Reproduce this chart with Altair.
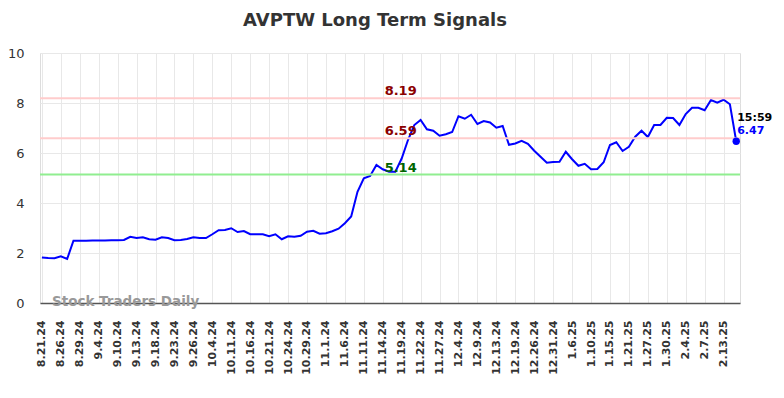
import altair as alt
import pandas as pd

title_text = "AVPTW Long Term Signals"

tick_labels = [
    "8.21.24", "8.26.24", "8.29.24", "9.4.24", "9.10.24", "9.13.24", "9.18.24",
    "9.23.24", "9.26.24", "10.4.24", "10.11.24", "10.16.24", "10.21.24",
    "10.24.24", "10.29.24", "11.1.24", "11.6.24", "11.11.24", "11.14.24",
    "11.19.24", "11.22.24", "11.27.24", "12.4.24", "12.9.24", "12.13.24",
    "12.19.24", "12.26.24", "12.31.24", "1.6.25", "1.10.25", "1.15.25",
    "1.21.25", "1.27.25", "1.30.25", "2.4.25", "2.7.25", "2.13.25",
]
tick_step = 3

values = [
    1.82, 1.80, 1.79, 1.87, 1.76,
    2.49, 2.49, 2.49, 2.50, 2.50, 2.50, 2.51, 2.51, 2.52,
    2.65, 2.60, 2.63, 2.55, 2.53, 2.63,
    2.60, 2.51, 2.52, 2.56, 2.63, 2.60, 2.60, 2.75, 2.91, 2.92,
    2.99, 2.84, 2.88, 2.75, 2.75, 2.75, 2.67, 2.75, 2.55, 2.67,
    2.65, 2.69, 2.85, 2.89, 2.77, 2.79, 2.87, 2.97, 3.19, 3.46,
    4.45, 4.99, 5.08, 5.52, 5.35, 5.25, 5.25, 5.78, 6.52, 7.12,
    7.32, 6.95, 6.89, 6.69, 6.75, 6.84, 7.47, 7.37, 7.53, 7.16,
    7.28, 7.22, 7.01, 7.08, 6.33, 6.38, 6.49, 6.37, 6.09, 5.85,
    5.61, 5.64, 5.65, 6.05, 5.75, 5.49, 5.57, 5.35, 5.36, 5.63,
    6.32, 6.43, 6.08, 6.25, 6.65, 6.89, 6.64, 7.12, 7.12, 7.41,
    7.40, 7.12, 7.56, 7.81, 7.81, 7.71, 8.12, 8.01, 8.13, 7.95,
    6.47,
]

levels = [8.19, 6.59, 5.14]
level_line_colors = ["#ffcccc", "#ffcccc", "#90ee90"]
level_text_colors = ["#8b0000", "#8b0000", "#006400"]
level_label_idx = 54.3

last_time = "15:59"
watermark = "Stock Traders Daily"
watermark_idx = 1.6

FONT = "DejaVu Sans"

df = pd.DataFrame({"idx": list(range(len(values))), "value": values})
lv = pd.DataFrame({
    "level": levels,
    "label": [f"{v:.2f}" for v in levels],
    "line_color": level_line_colors,
    "text_color": level_text_colors,
    "idx": [level_label_idx] * len(levels),
})
last = df.iloc[[-1]].copy()
last["time"] = last_time
last["vlabel"] = last["value"].map(lambda v: f"{v:.2f}")
wm = pd.DataFrame({"idx": [watermark_idx], "value": [0], "text": [watermark]})

label_arr = "[" + ",".join(f"'{t}'" for t in tick_labels) + "]"
x_scale = alt.Scale(domain=[-0.3, len(values) - 1 + 0.6], nice=False, zero=False)
y_scale = alt.Scale(domain=[0, 10], nice=False)

x_axis = alt.Axis(
    values=list(range(0, tick_step * len(tick_labels), tick_step)),
    tickCount=len(tick_labels) + 5,
    labelExpr=f"{label_arr}[round(datum.value/{tick_step})]",
    labelAngle=-90, labelFontSize=11, labelFontWeight="bold", labelColor="#333",
    labelPadding=17, tickSize=0, grid=True, gridColor="#e8e8e8",
    domainColor="#555", domainWidth=1.5, title=None, labelFont=FONT,
    labelOverlap=False, labelBound=False,
)
y_axis = alt.Axis(
    values=[0, 2, 4, 6, 8, 10], tickCount=6, labelFontSize=13, labelColor="#333",
    labelPadding=16, tickSize=0, domain=False, grid=True, gridColor="#e8e8e8",
    title=None, labelFont=FONT,
)

line = alt.Chart(df).mark_line(color="#0000ff", strokeWidth=2).encode(
    x=alt.X("idx:Q", scale=x_scale, axis=x_axis),
    y=alt.Y("value:Q", scale=y_scale, axis=y_axis),
)
hlines = alt.Chart(lv).mark_rule(strokeWidth=2).encode(
    y=alt.Y("level:Q", scale=y_scale),
    color=alt.Color("line_color:N", scale=None),
)
hlabels = alt.Chart(lv).mark_text(
    align="left", baseline="alphabetic", dy=-3, fontSize=13, fontWeight="bold", font=FONT
).encode(
    x=alt.X("idx:Q", scale=x_scale),
    y=alt.Y("level:Q", scale=y_scale),
    text="label:N",
    color=alt.Color("text_color:N", scale=None),
)
dot = alt.Chart(last).mark_point(filled=True, size=55, color="#0000ff", opacity=1).encode(
    x=alt.X("idx:Q", scale=x_scale),
    y=alt.Y("value:Q", scale=y_scale),
)
t_time = alt.Chart(last).mark_text(
    align="left", baseline="middle", dx=1, dy=-23, fontSize=11, fontWeight="bold",
    color="#000", font=FONT,
).encode(x=alt.X("idx:Q", scale=x_scale), y=alt.Y("value:Q", scale=y_scale), text="time:N")
t_val = alt.Chart(last).mark_text(
    align="left", baseline="middle", dx=1, dy=-10, fontSize=11, fontWeight="bold",
    color="#0000ff", font=FONT,
).encode(x=alt.X("idx:Q", scale=x_scale), y=alt.Y("value:Q", scale=y_scale), text="vlabel:N")
wmark = alt.Chart(wm).mark_text(
    align="left", baseline="middle", dy=-1, fontSize=13.5, fontWeight="bold",
    color="#999999", font=FONT,
).encode(x=alt.X("idx:Q", scale=x_scale), y=alt.Y("value:Q", scale=y_scale), text="text:N")

chart = alt.layer(line, hlines, hlabels, dot, t_time, t_val, wmark).properties(
    width=700, height=250,
    title=alt.TitleParams(title_text, fontSize=18, fontWeight="bold", color="#333",
                          font=FONT, anchor="middle", offset=17, dx=-15),
    autosize=alt.AutoSizeParams(type="none"),
    padding={"left": 32, "top": 45, "right": 36, "bottom": 87},
).configure_view(stroke=None).configure(background="white")

chart.save("out.html", embed_options={"renderer": "svg", "actions": False})
